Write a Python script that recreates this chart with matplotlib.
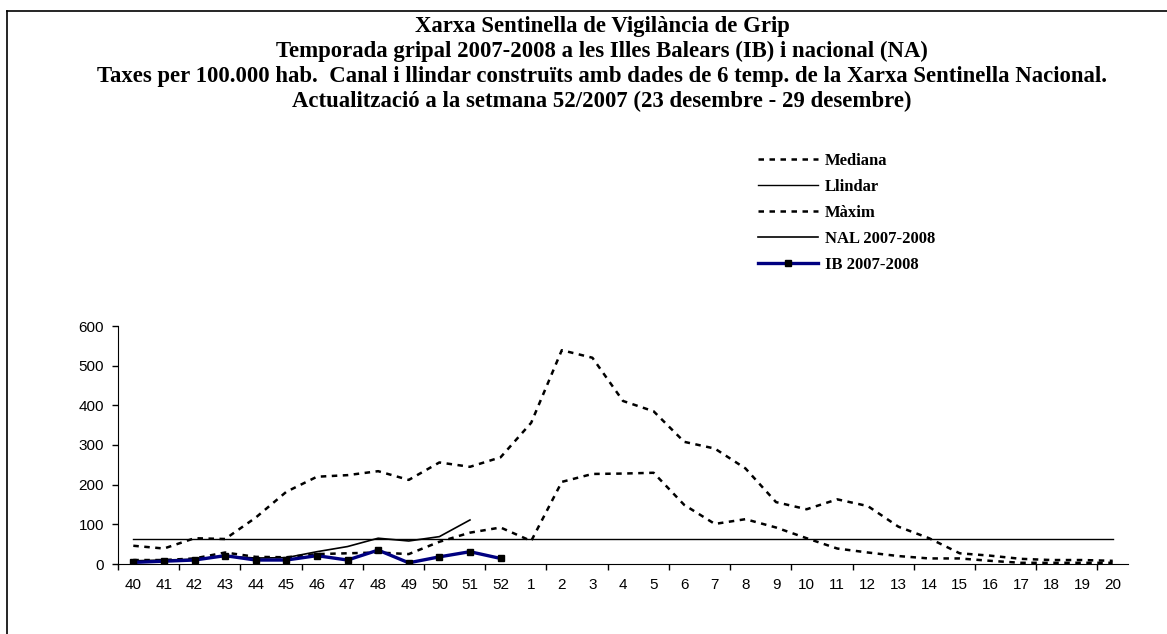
import numpy as np
import matplotlib
matplotlib.use("Agg")
import matplotlib.pyplot as plt
from matplotlib.lines import Line2D

# Data (rates per 100.000 inhabitants), weeks 40/2007 .. 20/2008
weeks = [str(w) for w in range(40, 53)] + [str(w) for w in range(1, 21)]

mediana = [10, 10, 14, 29, 18, 17, 25, 27, 29, 25, 56, 79, 92,
           58, 207, 227, 228, 230, 149, 101, 113, 92, 65, 39, 29,
           20, 14, 14, 8, 3, 3, 3, 3]
maxim = [46, 39, 65, 63, 117, 182, 220, 224, 234, 212, 256, 245, 269,
         356, 539, 520, 411, 385, 308, 291, 241, 156, 138, 163, 146,
         94, 65, 27, 21, 13, 10, 10, 8]
llindar = [62] * len(weeks)
nal = [8, 10, 12, 20, 15, 16, 31, 44, 65, 58, 69, 111]
ib = [4, 7, 10, 21, 10, 10, 21, 10, 35, 3, 18, 31, 14]

title_lines = [
    "Xarxa Sentinella de Vigilància de Grip",
    "Temporada gripal 2007-2008 a les Illes Balears (IB) i nacional (NA)",
    "Taxes per 100.000 hab.  Canal i llindar construïts amb dades de 6 temp. de la Xarxa Sentinella Nacional.",
    "Actualització a la setmana 52/2007 (23 desembre - 29 desembre)",
]

W, H = 1167, 634
fig = plt.figure(figsize=(W / 100, H / 100), dpi=100)
ax = fig.add_axes([118 / W, 1 - 564 / H, 1010 / W, 238 / H])

x = np.arange(len(weeks))
dash = (0, (2.2, 2.2))
ax.plot(x, mediana, color="black", lw=1.8, ls=dash, label="Mediana")
ax.plot(x, llindar, color="black", lw=1.0, label="Llindar")
ax.plot(x, maxim, color="black", lw=1.8, ls=dash, label="Màxim")
ax.plot(x[:len(nal)], nal, color="black", lw=1.2, label="NAL 2007-2008")
ax.plot(x[:len(ib)], ib, color="#000080", lw=2.4, marker="s", markersize=4.5,
        markerfacecolor="black", markeredgecolor="black", label="IB 2007-2008")

ax.set_xlim(-0.5, len(weeks) - 0.5)
ax.set_ylim(0, 600)
ax.set_yticks(range(0, 601, 100))
ax.set_xticks(x)
ax.set_xticklabels(weeks)
ax.set_xticks(np.arange(-0.5, len(weeks) - 1, 2), minor=True)
ax.tick_params(axis="x", which="major", length=0, pad=10, labelsize=11)
ax.tick_params(axis="x", which="minor", length=4, direction="out", width=1)
ax.tick_params(axis="y", length=4, width=1, labelsize=11, pad=6)
for lbl in ax.get_xticklabels() + ax.get_yticklabels():
    lbl.set_family("Liberation Sans")
for s in ("top", "right"):
    ax.spines[s].set_visible(False)
ax.patch.set_visible(False)

# Title lines (bold serif), baselines in pixels from top
baselines = [32, 57, 82, 107]
for line, by in zip(title_lines, baselines):
    fig.text(602 / W, 1 - by / H, line, ha="center", va="baseline",
             family="Liberation Serif", weight="bold", fontsize=16.4)

handles, labels = ax.get_legend_handles_labels()
leg = fig.legend(handles, labels, loc="upper left",
                 bbox_to_anchor=(758 / W, 1 - 153 / H),
                 frameon=False, handlelength=3.6, handletextpad=0.42,
                 labelspacing=0.6, borderpad=0, borderaxespad=0,
                 prop={"family": "Liberation Serif", "weight": "bold", "size": 12})

# Frame lines of the chart area (top and left only)
fig.add_artist(Line2D([7 / W, 1], [1 - 11 / H, 1 - 11 / H], color="black", lw=1.2))
fig.add_artist(Line2D([7 / W, 7 / W], [0, 1 - 11 / H], color="black", lw=1.2))

fig.savefig("out.png", dpi=100)
